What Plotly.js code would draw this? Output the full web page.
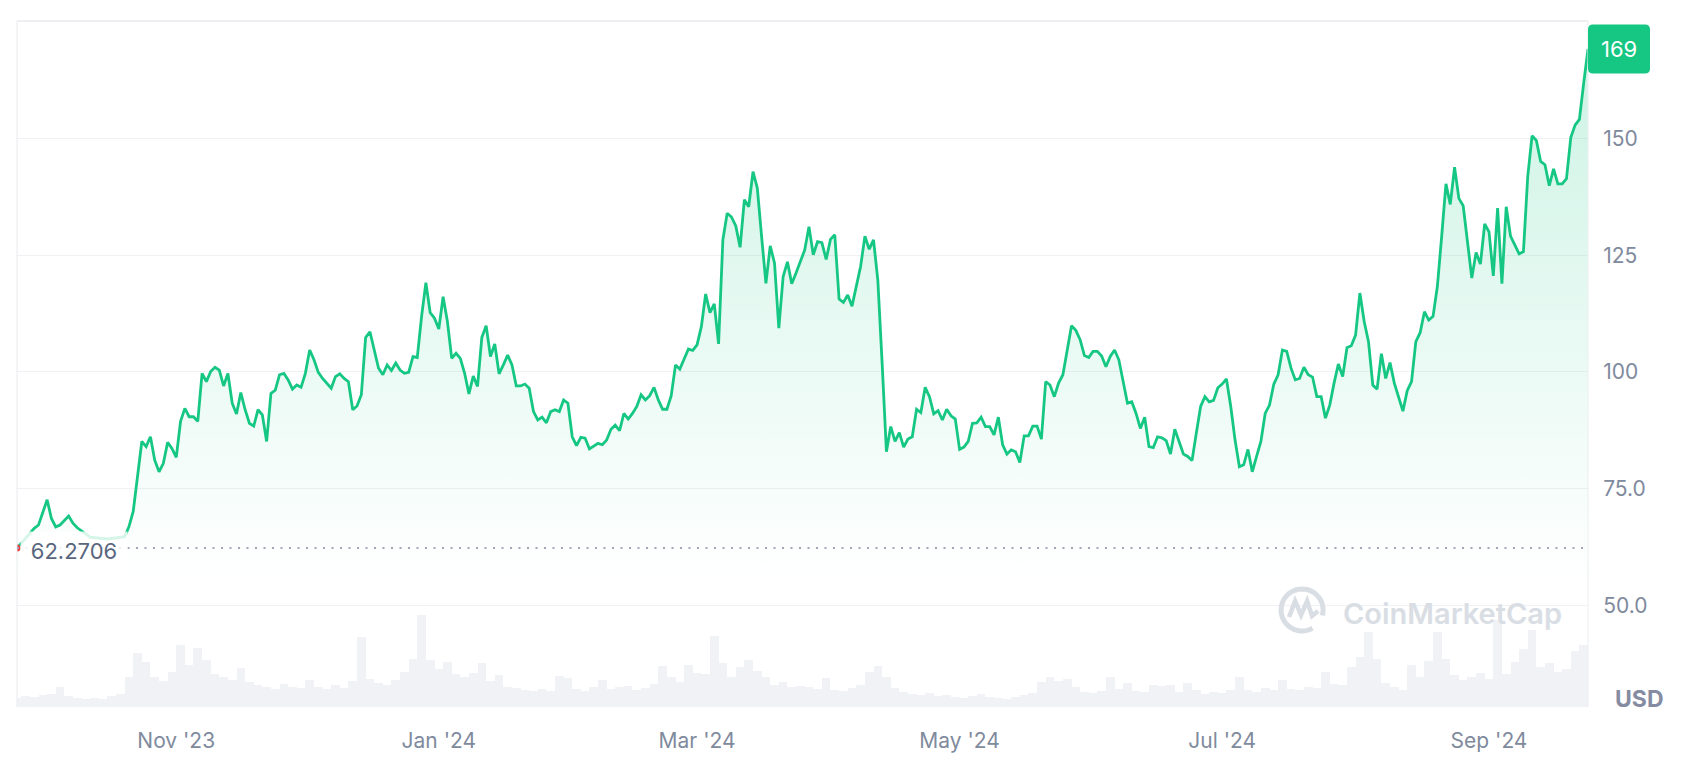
<!DOCTYPE html>
<html><head><meta charset="utf-8">
<script src="https://cdn.plot.ly/plotly-3.0.1.min.js"></script>
<style>html,body{margin:0;padding:0;background:#fff}#chart{width:1694px;height:784px}</style>
</head><body><div id="chart"></div>
<script>
// ---- data ----
const startDate = '2023-09-25';
const priceDays = [0,4,5,7,8,9,10,12,13,14,17,21,25,26,27,28,29,30,31,32,33,34,35,36,37,38,39,40,41,42,43,44,45,46,47,48,49,50,51,52,53,54,55,56,57,58,59,60,61,62,63,64,65,66,67,68,69,70,71,73,74,75,76,77,78,79,80,81,82,83,84,85,86,87,88,89,90,91,92,93,94,95,96,97,98,99,100,101,102,103,104,105,106,107,108,109,110,111,112,113,114,115,116,117,118,119,120,121,122,123,124,125,126,127,128,129,130,131,132,133,134,135,136,137,138,139,140,141,142,143,144,145,146,147,148,149,150,151,152,153,154,155,156,157,158,159,160,161,162,163,164,165,166,167,168,169,170,171,172,173,174,175,176,177,178,179,180,181,182,183,184,185,186,187,188,189,190,191,192,193,194,195,196,197,198,199,200,201,202,203,204,205,206,207,208,209,210,211,212,213,214,215,216,217,218,219,220,221,222,223,224,225,226,227,228,229,230,231,232,233,234,235,236,237,238,239,240,241,242,243,244,245,246,247,248,249,250,251,252,253,254,255,256,257,258,259,260,261,262,263,264,265,266,267,268,269,270,271,272,273,274,275,276,277,278,279,280,281,282,283,284,285,286,287,288,289,290,291,292,293,294,295,296,297,298,299,300,301,302,303,304,305,306,307,308,309,310,311,312,313,314,315,316,317,318,319,320,321,322,323,324,325,326,327,328,329,330,331,332,333,334,335,336,337,338,339,340,341,342,343,344,345,346,347,348,349,350,351,352,353,354,355,356,357,358,359,360,361,362,363,364,365];
const prices = [62.27,66.5,67.2,72.6,68.6,66.8,67.2,69.1,67.6,66.6,64.6,64.2,64.7,66.8,70.1,77.6,85.1,84.0,86.1,81.1,78.6,80.4,84.9,83.6,81.7,89.4,92.2,90.4,90.4,89.4,99.7,97.9,100.1,101.0,100.4,97.0,99.7,93.3,91.0,95.6,91.9,89.0,88.4,91.9,90.8,85.1,95.4,96.1,99.4,99.7,98.3,96.3,97.2,96.7,99.7,104.7,102.6,99.9,98.6,96.5,99.0,99.6,98.6,97.9,91.9,92.7,95.1,107.4,108.6,104.7,100.8,99.4,101.5,100.3,101.9,100.4,99.7,99.9,103.3,103.1,111.9,119.1,112.7,111.5,109.2,116.1,110.8,102.9,104.0,102.9,99.7,95.3,99.1,96.9,107.4,109.9,103.3,106.0,99.6,101.5,103.6,101.5,97.0,97.0,97.4,96.5,91.5,89.7,90.3,89.1,91.5,91.9,91.5,94.0,93.3,86.1,84.2,86.0,85.8,83.5,84.1,84.7,84.4,85.4,87.7,88.6,87.4,91.1,89.9,91.1,92.6,95.1,94.0,94.9,96.7,94.0,92.0,92.0,94.9,101.5,100.6,102.6,104.9,104.6,105.8,109.7,116.7,112.7,114.6,106.0,128.3,134.0,133.2,131.3,126.7,136.9,135.4,142.9,139.4,129.0,119.0,127.0,123.3,109.4,120.4,123.6,118.9,121.2,123.6,126.1,131.1,125.1,127.9,127.7,124.1,128.4,129.4,115.6,114.9,116.5,114.1,118.6,122.6,129.1,126.3,128.3,119.7,101.9,82.9,88.3,85.1,87.0,83.9,85.6,86.1,92.0,91.3,96.7,94.7,91.0,91.7,89.7,92.0,90.6,89.9,83.4,83.9,85.1,89.0,89.1,90.3,88.3,88.3,86.5,90.3,84.4,82.4,83.3,82.9,80.6,86.3,86.3,88.4,88.4,85.6,97.9,97.2,94.7,97.6,99.4,104.7,109.9,108.9,106.9,103.5,103.1,104.4,104.4,103.4,101.1,103.3,104.7,102.6,98.3,93.3,93.6,91.1,87.9,90.3,84.0,83.8,86.1,85.9,85.3,82.4,87.7,85.1,82.4,81.9,81.0,86.9,92.6,94.7,93.6,93.9,96.6,97.4,98.5,92.6,85.4,79.7,80.1,83.4,78.6,81.9,85.1,91.1,92.9,97.4,99.4,104.7,104.4,100.8,98.3,98.6,101.0,99.4,98.9,94.7,94.7,90.1,92.9,97.6,101.7,99.0,105.2,105.6,107.9,116.9,110.8,106.5,97.2,96.3,103.9,98.6,102.0,97.6,94.4,91.6,96.0,97.9,106.5,108.4,112.9,111.1,111.9,118.3,129.0,140.3,135.9,143.9,137.2,135.6,127.9,120.1,125.6,123.1,131.7,130.0,120.6,135.1,118.9,135.4,129.1,127.2,125.3,125.8,141.9,150.6,149.6,145.1,144.4,139.9,143.5,140.3,140.3,141.4,150.2,152.9,154.1,161.9,169.2];
// volume (USD millions), one value per 2 days from the start date
const volumes = [90,110,100,120,130,200,110,90,80,90,80,110,130,300,540,450,300,260,350,620,420,590,470,330,300,270,390,250,220,200,180,230,200,190,270,200,180,220,190,260,700,280,240,220,270,350,480,920,470,380,450,330,300,340,440,260,320,200,190,170,160,180,160,310,290,180,160,200,270,180,200,210,170,190,230,410,300,250,420,340,330,710,440,300,400,470,360,300,220,250,200,210,200,180,290,170,160,190,220,350,410,300,190,150,130,120,140,110,120,100,90,110,130,100,90,80,100,120,140,250,300,260,280,200,150,140,160,300,180,240,160,150,220,210,220,150,240,170,130,150,140,170,300,170,150,190,170,270,180,170,200,190,350,230,220,400,500,750,480,240,200,170,420,300,460,750,480,320,270,300,340,280,870,330,450,580,770,400,440,350,380,560,620];
const tickDates = ['2023-11-01','2024-01-01','2024-03-01','2024-05-01','2024-07-01','2024-09-01'];
const tickLabels = ["Nov '23","Jan '24","Mar '24","May '24","Jul '24","Sep '24"];
const yTickVals = [50,75,100,125,150];
const yTickText = ['50.0','75.0','100','125','150'];
const openPrice = 62.2706;
const openLabel = '62.2706';
const lastLabel = '169';
const currency = 'USD';
const watermark = 'CoinMarketCap';

// ---- helpers ----
const DAY = 86400000;
const t0 = Date.parse(startDate + 'T00:00:00Z');
function dayToDate(d){ return new Date(t0 + d*DAY).toISOString().slice(0,10); }
const x = priceDays.map(dayToDate);
const volX = volumes.map((v,i)=>dayToDate(i*2));
const yMin = 28.2, yMax = 175.2;
const lastPrice = prices[prices.length-1];
const lastFrac = (lastPrice - yMin)/(yMax - yMin);

const green = '#16c784';
const grid = '#eff1f4';
const tickColor = '#808a9d';
const font = 'Inter, "Noto Sans", sans-serif';
const wm = '#d9dde4';

function arc(r, a0, a1, n){
  let s='';
  for(let i=0;i<=n;i++){
    const a=(a0+(a1-a0)*i/n)*Math.PI/180;
    s += (i?'L':'M') + (r*Math.cos(a)).toFixed(2) + ',' + (r*Math.sin(a)).toFixed(2) + ' ';
  }
  return s;
}

const traces = [
  {type:'bar', x:volX, y:volumes, yaxis:'y2', width:2*DAY,
   marker:{color:'#f0f2f5', line:{width:0}}, hoverinfo:'skip', showlegend:false},
  {type:'scatter', mode:'lines', x:x, y:prices, fill:'tozeroy',
   fillgradient:{type:'vertical', start:55, stop:172,
     colorscale:[[0,'rgba(22,199,132,0)'],[1,'rgba(22,199,132,0.22)']]},
   line:{color:green, width:2.8}, showlegend:false, hoverinfo:'skip'},
  {type:'scatter', mode:'markers', x:[x[0]], y:[prices[0]],
   marker:{color:'#ea3943', size:7}, showlegend:false, hoverinfo:'skip'}
];

const layout = {
  width:1694, height:784,
  margin:{l:17, r:106, t:21, b:77},
  paper_bgcolor:'#ffffff', plot_bgcolor:'#ffffff',
  showlegend:false, bargap:0,
  xaxis:{type:'date', range:[x[0], x[x.length-1]], tickvals:tickDates, ticktext:tickLabels,
    showgrid:false, zeroline:false, showline:false, ticks:'outside', ticklen:15,
    tickcolor:'rgba(0,0,0,0)', tickfont:{family:font, size:21, color:tickColor}},
  yaxis:{range:[yMin,yMax], side:'right', tickvals:yTickVals, ticktext:yTickText,
    showgrid:true, gridcolor:grid, gridwidth:1, zeroline:false, showline:false,
    ticks:'outside', ticklen:10, tickcolor:'rgba(0,0,0,0)',
    tickfont:{family:font, size:21, color:tickColor}},
  yaxis2:{overlaying:'y', range:[0,6860], visible:false, fixedrange:true},
  shapes:[
    {type:'line', xref:'paper', yref:'paper', x0:0, x1:0, y0:0, y1:1, line:{color:'#e8eaee', width:1}},
    {type:'line', xref:'paper', yref:'paper', x0:0, x1:1, y0:1, y1:1, line:{color:'#e8eaee', width:1.5}},
    {type:'line', xref:'paper', yref:'paper', x0:1, x1:1, y0:0, y1:1, line:{color:'#eceef1', width:1}},
    {type:'line', xref:'paper', yref:'y', x0:0, x1:1, y0:openPrice, y1:openPrice, layer:'above',
      line:{color:'#9ea6b4', width:2, dash:'2px,6.5px'}},
    {type:'path', xref:'paper', yref:'paper', xsizemode:'pixel', ysizemode:'pixel',
      xanchor:1, yanchor:lastFrac, layer:'above',
      path:'M5,-24.5 L57,-24.5 Q62,-24.5 62,-19.5 L62,19.5 Q62,24.5 57,24.5 L5,24.5 Q0,24.5 0,19.5 L0,-19.5 Q0,-24.5 5,-24.5 Z',
      fillcolor:green, line:{width:0}},
    {type:'path', xref:'paper', yref:'paper', xsizemode:'pixel', ysizemode:'pixel',
      xanchor:0.818, yanchor:0.1414, layer:'above',
      path:arc(21,-15,300,48), fillcolor:'rgba(0,0,0,0)', line:{color:wm, width:5}},
    {type:'path', xref:'paper', yref:'paper', xsizemode:'pixel', ysizemode:'pixel',
      xanchor:0.818, yanchor:0.1414, layer:'above',
      path:'M-13,-7 L-7,9 L-1,-5 L5,9 L10,-6 L16,-1', fillcolor:'rgba(0,0,0,0)',
      line:{color:wm, width:4.5}}
  ],
  annotations:[
    {xref:'x', yref:'y', x:x[0], y:openPrice, xanchor:'left', yanchor:'middle', yshift:-3, xshift:3,
     text:openLabel, showarrow:false, bgcolor:'rgba(255,255,255,0.82)', bordercolor:'rgba(0,0,0,0)',
     borderpad:5, width:96, height:28, align:'center',
     font:{family:font, size:22, color:'#58667e'}},
    {xref:'paper', yref:'y', x:1, y:lastPrice, xanchor:'center', yanchor:'middle', xshift:31,
     text:lastLabel, showarrow:false, font:{family:font, size:22, color:'#ffffff'}},
    {xref:'paper', yref:'paper', x:1, y:0.0117, xanchor:'left', yanchor:'middle', xshift:25,
     text:currency, showarrow:false, font:{family:font, size:23, color:'#858ca2', weight:700}},
    {xref:'paper', yref:'paper', x:0.8428, y:0.137, xanchor:'left', yanchor:'middle',
     text:watermark, showarrow:false, font:{family:font, size:29, color:wm, weight:600}}
  ]
};

Plotly.newPlot('chart', traces, layout, {staticPlot:true, displayModeBar:false});
</script>
</body></html>
